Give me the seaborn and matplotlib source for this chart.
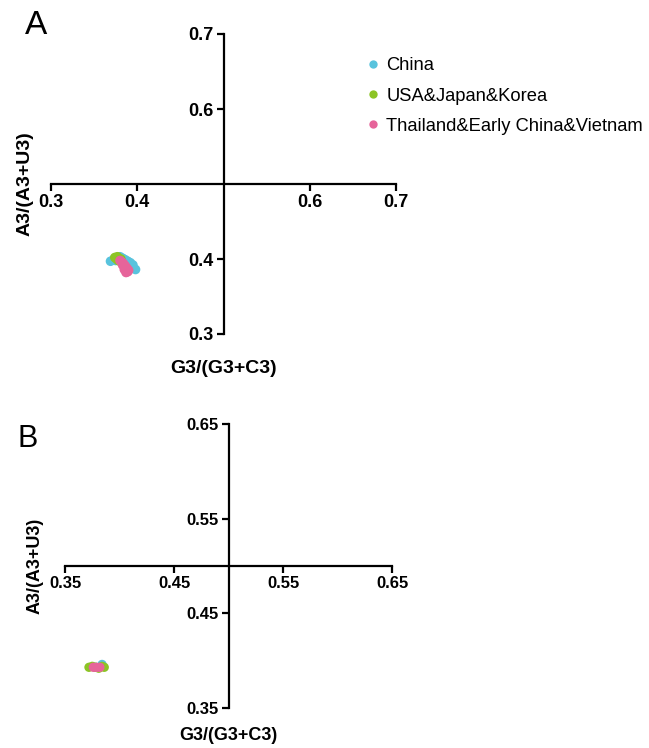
import matplotlib
matplotlib.use("Agg")
import matplotlib.pyplot as plt
import seaborn as sns
import pandas as pd
from matplotlib.lines import Line2D

sns.set_theme(style="white")
plt.rcParams['font.family'] = ['Liberation Sans', 'DejaVu Sans']
plt.rcParams['text.color'] = 'black'
plt.rcParams['axes.labelcolor'] = 'black'
plt.rcParams['xtick.color'] = 'black'
plt.rcParams['ytick.color'] = 'black'

groups = ["China", "USA&Japan&Korea", "Thailand&Early China&Vietnam"]
colors = ["#58C3DD", "#8CC425", "#E6649A"]

# Panel A data
a_china_x = [0.369, 0.373, 0.377, 0.380, 0.383, 0.386, 0.389, 0.392, 0.395, 0.398, 0.384, 0.390, 0.375, 0.393, 0.387]
a_china_y = [0.397, 0.400, 0.402, 0.403, 0.401, 0.399, 0.397, 0.395, 0.392, 0.386, 0.394, 0.389, 0.398, 0.390, 0.386]
a_usa_x = [0.374, 0.376, 0.378, 0.380, 0.377, 0.381]
a_usa_y = [0.402, 0.400, 0.398, 0.397, 0.403, 0.400]
a_thai_x = [0.380, 0.382, 0.384, 0.386, 0.388, 0.390, 0.385, 0.383, 0.389, 0.387]
a_thai_y = [0.398, 0.396, 0.394, 0.391, 0.388, 0.385, 0.386, 0.392, 0.383, 0.382]

# Panel B data
b_china_x = [0.378, 0.384]
b_china_y = [0.393, 0.396]
b_usa_x = [0.372, 0.375, 0.378, 0.381, 0.384, 0.386]
b_usa_y = [0.393, 0.394, 0.393, 0.392, 0.394, 0.393]
b_thai_x = [0.376, 0.379, 0.382]
b_thai_y = [0.393, 0.393, 0.393]

a_ticks = [0.3, 0.4, 0.6, 0.7]
a_ticklabels = ["0.3", "0.4", "0.6", "0.7"]
b_ticks = [0.35, 0.45, 0.55, 0.65]
b_ticklabels = ["0.35", "0.45", "0.55", "0.65"]

def make_df(xs, ys):
    rows = []
    for g, x, y in zip(groups, xs, ys):
        for xi, yi in zip(x, y):
            rows.append({"x": xi, "y": yi, "group": g})
    return pd.DataFrame(rows)

dfA = make_df([a_china_x, a_usa_x, a_thai_x], [a_china_y, a_usa_y, a_thai_y])
dfB = make_df([b_china_x, b_usa_x, b_thai_x], [b_china_y, b_usa_y, b_thai_y])

W, H = 649, 748
fig = plt.figure(figsize=(W / 100, H / 100), dpi=100)

def add_ax(l, r, t, b):
    return fig.add_axes([l / W, 1 - b / H, (r - l) / W, (b - t) / H])

axA = add_ax(51, 396, 34, 334)
axB = add_ax(65, 392, 424, 708)

palette = dict(zip(groups, colors))

def style(ax, lo, hi, ticks, labels, ylabel_x, xlabel_y, tfs, lfs):
    ax.set_xlim(lo, hi)
    ax.set_ylim(lo, hi)
    for s in ["top", "right"]:
        ax.spines[s].set_visible(False)
    ax.spines["left"].set_position(("data", 0.5))
    ax.spines["bottom"].set_position(("data", 0.5))
    for s in ["left", "bottom"]:
        ax.spines[s].set_linewidth(1.6)
        ax.spines[s].set_color("black")
    ax.set_xticks(ticks)
    ax.set_xticklabels(labels, fontsize=tfs, fontweight="bold", color="black")
    ax.set_yticks(ticks)
    ax.set_yticklabels(labels, fontsize=tfs, fontweight="bold", color="black")
    ax.tick_params(axis="both", direction="out", length=5, width=1.6, color="black", pad=2, bottom=True, left=True)
    ax.set_xlabel("G3/(G3+C3)", fontsize=lfs, fontweight="bold", color="black")
    ax.set_ylabel("A3/(A3+U3)", fontsize=lfs, fontweight="bold", color="black")
    ax.xaxis.set_label_coords(0.5, xlabel_y)
    ax.yaxis.set_label_coords(ylabel_x, 0.5)
    ax.grid(False)
    ax.set_facecolor("white")

sns.scatterplot(data=dfA, x="x", y="y", hue="group", palette=palette, s=48,
                edgecolor="none", ax=axA, legend=False)
sns.scatterplot(data=dfB, x="x", y="y", hue="group", palette=palette, s=45,
                edgecolor="none", ax=axB, legend=False)

style(axA, 0.3, 0.7, a_ticks, a_ticklabels, -0.052, -0.087, 13, 14)
style(axB, 0.35, 0.65, b_ticks, b_ticklabels, -0.067, -0.067, 12, 13)

handles = [Line2D([0], [0], marker="o", color="w", markerfacecolor=c, markeredgecolor="none",
                  markersize=6) for c in colors]
leg = fig.legend(handles, groups, loc="upper left", bbox_to_anchor=(355 / W, 1 - 50 / H),
                 frameon=False, fontsize=13.2, handletextpad=0.1, labelspacing=0.72,
                 handlelength=1.2, borderaxespad=0)
for t in leg.get_texts():
    t.set_color("black")

fig.text(25 / W, 1 - 10 / H, "A", fontsize=24, va="top", ha="left", color="black")
fig.text(18 / W, 1 - 424 / H, "B", fontsize=22, va="top", ha="left", color="black")

fig.savefig("out.png", dpi=100, facecolor="white")
